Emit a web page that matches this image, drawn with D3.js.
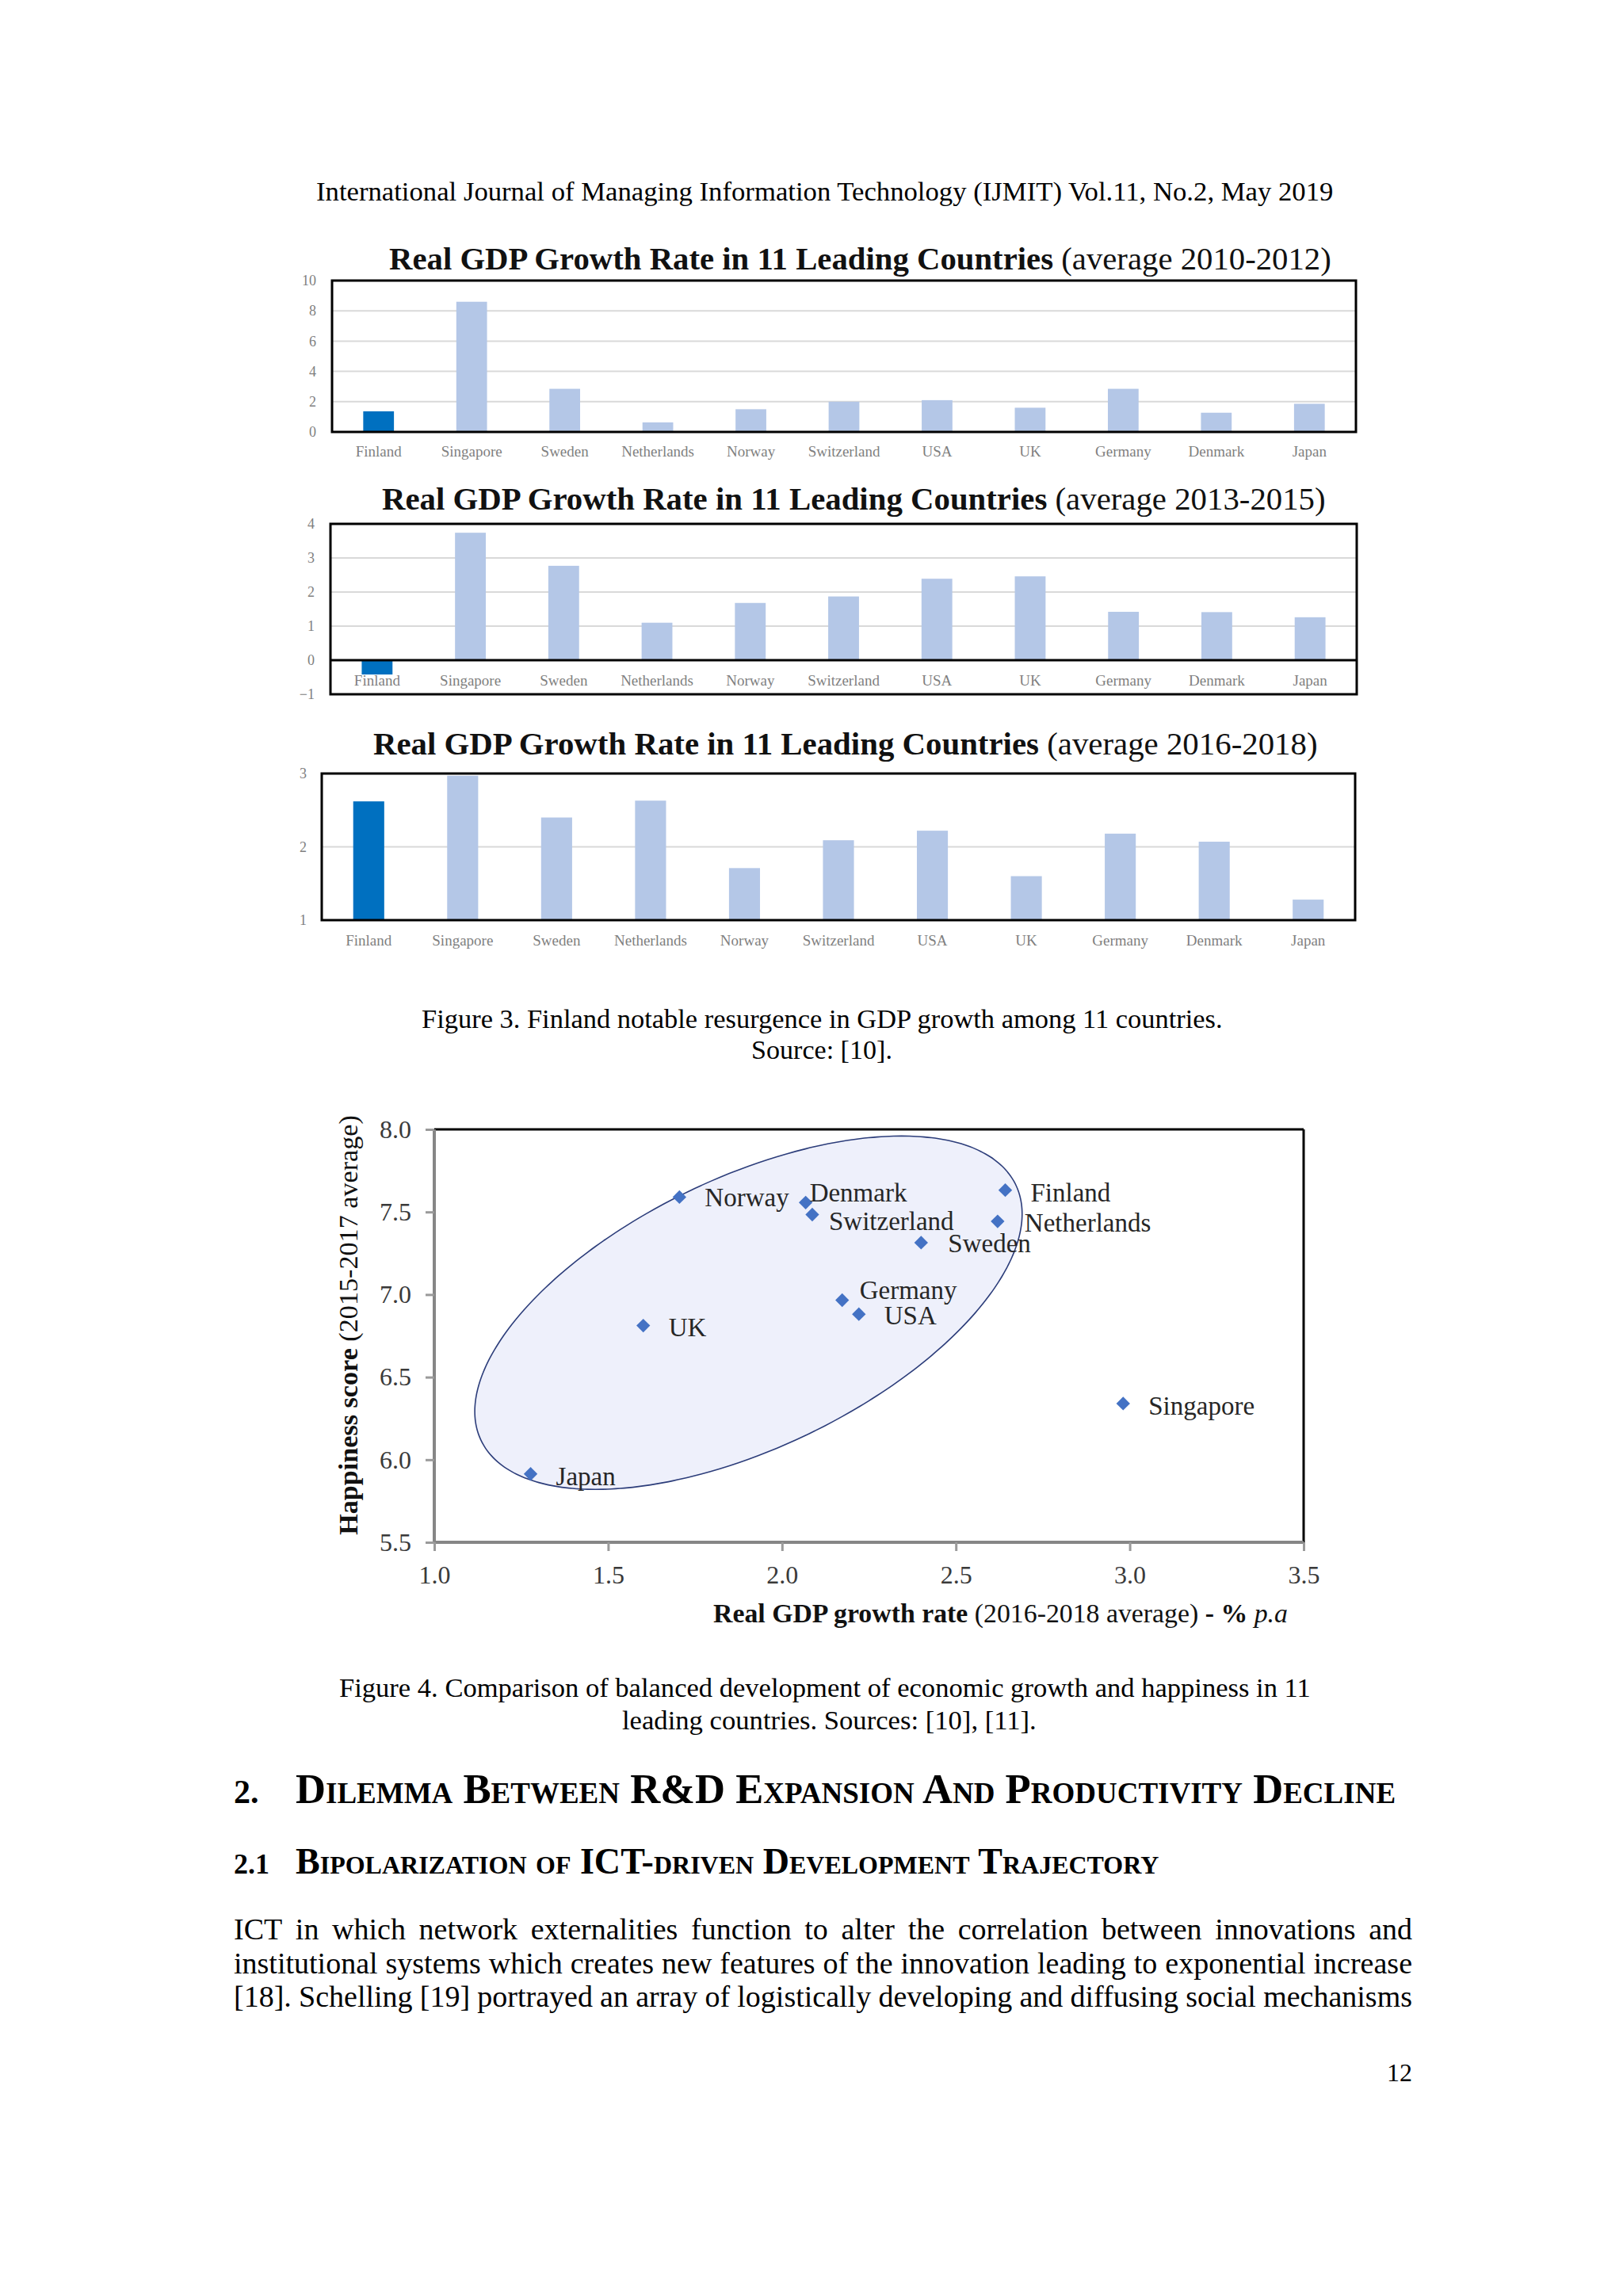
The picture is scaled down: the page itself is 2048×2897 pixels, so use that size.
<!DOCTYPE html>
<html><head><meta charset="utf-8">
<script src="https://cdn.jsdelivr.net/npm/d3@7/dist/d3.min.js"></script>
<style>
body{margin:0;background:#fff}
svg{display:block}
text{font-family:"Liberation Serif","Times New Roman",serif}
</style>
</head><body>
<svg id="page" width="2048" height="2897"></svg>
<script>
// ---------------- DATA ----------------
const countries = ["Finland","Singapore","Sweden","Netherlands","Norway","Switzerland","USA","UK","Germany","Denmark","Japan"];
const gdp2010_2012 = [1.36, 8.6, 2.85, 0.63, 1.5, 2.0, 2.1, 1.6, 2.85, 1.27, 1.86];
const gdp2013_2015 = [-0.42, 3.74, 2.77, 1.10, 1.68, 1.87, 2.39, 2.46, 1.42, 1.41, 1.26];
const gdp2016_2018 = [2.62, 2.97, 2.40, 2.63, 1.71, 2.09, 2.22, 1.60, 2.18, 2.07, 1.28];
const ticks2010 = [0, 2, 4, 6, 8, 10];
const ticks2013 = [-1, 0, 1, 2, 3, 4];
const ticks2016 = [1, 2, 3];

const scatterCountries = ["Norway","Denmark","Switzerland","Finland","Netherlands","Sweden","Germany","USA","UK","Singapore","Japan"];
const scatterGdp       = [1.705, 2.068, 2.087, 2.642, 2.620, 2.400, 2.173, 2.221, 1.601, 2.981, 1.277];
const scatterHappiness = [7.590, 7.557, 7.484, 7.632, 7.443, 7.314, 6.966, 6.881, 6.812, 6.340, 5.914];
const scatterXTicks = [1.0, 1.5, 2.0, 2.5, 3.0, 3.5];
const scatterYTicks = [5.5, 6.0, 6.5, 7.0, 7.5, 8.0];

const paragraphLines = [
  "ICT in which network externalities function to alter the correlation between innovations and",
  "institutional systems which creates new features of the innovation leading to exponential increase",
  "[18]. Schelling [19] portrayed an array of logistically developing and diffusing social mechanisms"
];

// ---------------- LAYOUT / STYLE ----------------
const svg = d3.select("#page");
svg.append("rect").attr("width",2048).attr("height",2897).attr("fill","#fff");

function fitWidth(sel, target) {
  const w = sel.node().getComputedTextLength();
  const fs = parseFloat(sel.attr("font-size"));
  sel.attr("font-size", fs * target / w);
}

function plainLine(txt, x0, x1, baseline, fs, opts={}) {
  const t = svg.append("text").attr("x", x0).attr("y", baseline)
    .attr("font-size", fs).attr("fill", "#000").text(txt);
  if (opts.weight) t.attr("font-weight", opts.weight);
  if (opts.smallcaps) t.style("font-variant", "small-caps");
  fitWidth(t, x1 - x0);
  return t;
}

function justifiedLine(txt, x0, x1, baseline, fs) {
  const words = txt.split(" ");
  const g = svg.append("g");
  const nodes = words.map(w => g.append("text").attr("y", baseline).attr("font-size", fs).attr("fill","#000").text(w));
  const widths = nodes.map(n => n.node().getComputedTextLength());
  const total = d3.sum(widths);
  const gap = (x1 - x0 - total) / (words.length - 1);
  let x = x0;
  nodes.forEach((n, i) => { n.attr("x", x); x += widths[i] + gap; });
}

// header
plainLine("International Journal of Managing Information Technology (IJMIT) Vol.11, No.2, May 2019", 399, 1683, 253, 32);

// ---------------- BAR CHARTS ----------------
function barChart(cfg) {
  const g = svg.append("g");
  const {values, box, domain, ticks, yearText, title, labelY, tickRight} = cfg;
  const x = d3.scaleBand().domain(countries).range([box.x0, box.x1]).paddingInner(0.67).paddingOuter(0.335);
  const y = d3.scaleLinear().domain(domain).range([box.y1, box.y0]);
  const base = domain[0] > 0 ? domain[0] : 0;

  g.selectAll("line.grid").data(ticks.filter(t => t !== domain[0] && t !== domain[1] && t !== 0))
    .join("line").attr("x1", box.x0).attr("x2", box.x1)
    .attr("y1", d => y(d)).attr("y2", d => y(d))
    .attr("stroke", "#d9d9d9").attr("stroke-width", 2);

  g.selectAll("rect.bar").data(countries.map((c, i) => ({c, v: values[i]})))
    .join("rect")
    .attr("x", d => x(d.c)).attr("width", x.bandwidth())
    .attr("y", d => Math.min(y(d.v), y(base)))
    .attr("height", d => Math.abs(y(d.v) - y(base)))
    .attr("fill", d => d.c === "Finland" ? "#0070c0" : "#b4c7e7");

  const xa = g.append("g").attr("transform", `translate(0,${labelY})`)
    .call(d3.axisBottom(x).tickSize(0).tickPadding(0));
  xa.select(".domain").remove();
  xa.selectAll("text").attr("font-size", 19).attr("fill", "#7f7f7f")
    .attr("font-family", '"Liberation Serif",serif').attr("dy", "0.35em");

  const ya = g.append("g").attr("transform", `translate(${tickRight},0)`)
    .call(d3.axisLeft(y).tickValues(ticks).tickSize(0).tickPadding(0).tickFormat(d3.format("d")));
  ya.select(".domain").remove();
  ya.selectAll("text").attr("font-size", 18).attr("fill", "#7f7f7f")
    .attr("font-family", '"Liberation Serif",serif');

  if (domain[0] < 0) {
    g.append("line").attr("x1", box.x0).attr("x2", box.x1).attr("y1", y(0)).attr("y2", y(0))
      .attr("stroke", "#000").attr("stroke-width", 3);
  }
  g.append("rect").attr("x", box.x0).attr("y", box.y0)
    .attr("width", box.x1 - box.x0).attr("height", box.y1 - box.y0)
    .attr("fill", "none").attr("stroke", "#000").attr("stroke-width", 3);

  const t = svg.append("text").attr("x", title.x0).attr("y", title.baseline).attr("font-size", 40).attr("fill", "#111");
  t.append("tspan").attr("font-weight", "bold").text("Real GDP Growth Rate in 11 Leading Countries");
  t.append("tspan").text(" (average " + yearText + ")");
  fitWidth(t, title.x1 - title.x0);
}

barChart({values: gdp2010_2012, domain: [0, 10], ticks: ticks2010, yearText: "2010-2012",
  box: {x0: 419, x1: 1711, y0: 354, y1: 545}, labelY: 569, tickRight: 399,
  title: {x0: 491, x1: 1680, baseline: 340}});
barChart({values: gdp2013_2015, domain: [-1, 4], ticks: ticks2013, yearText: "2013-2015",
  box: {x0: 417, x1: 1712, y0: 661, y1: 876}, labelY: 858, tickRight: 397,
  title: {x0: 482, x1: 1673, baseline: 643}});
barChart({values: gdp2016_2018, domain: [1, 3], ticks: ticks2016, yearText: "2016-2018",
  box: {x0: 406, x1: 1710, y0: 976, y1: 1161}, labelY: 1186, tickRight: 387,
  title: {x0: 471, x1: 1663, baseline: 952}});

plainLine("Figure 3. Finland notable resurgence in GDP growth among 11 countries.", 532, 1543, 1297, 32);
plainLine("Source: [10].", 948, 1126, 1336, 32);

// ---------------- SCATTER ----------------
const sx = d3.scaleLinear().domain([1.0, 3.5]).range([548, 1645]);
const sy = d3.scaleLinear().domain([5.5, 8.0]).range([1946, 1425]);
const sg = svg.append("g");

const ell = {cx: 1.9035, cy: 6.89, ax: 0.787, bx: 0.598, by: 0.887};
const ellPts = d3.range(0, 360, 2).map(a => {
  const t = a * Math.PI / 180;
  return [sx(ell.cx + ell.ax * Math.cos(t)), sy(ell.cy + ell.bx * Math.cos(t) + ell.by * Math.sin(t))];
});
sg.append("path").attr("d", d3.line().curve(d3.curveCardinalClosed)(ellPts))
  .attr("fill", "#eef0fb").attr("stroke", "#2c3d7a").attr("stroke-width", 1.6);

sg.append("line").attr("x1", sx(1.0)).attr("x2", sx(3.5)).attr("y1", sy(8)).attr("y2", sy(8)).attr("stroke", "#000").attr("stroke-width", 3);
sg.append("line").attr("x1", sx(3.5)).attr("x2", sx(3.5)).attr("y1", sy(8)).attr("y2", sy(5.5)).attr("stroke", "#000").attr("stroke-width", 3);

const yAx = sg.append("g").attr("transform", `translate(${sx(1.0)},0)`)
  .call(d3.axisLeft(sy).tickValues(scatterYTicks).tickFormat(d3.format(".1f")).tickSize(11).tickPadding(18));
const xAx = sg.append("g").attr("transform", `translate(0,${sy(5.5)})`)
  .call(d3.axisBottom(sx).tickValues(scatterXTicks).tickFormat(d3.format(".1f")).tickSize(11).tickPadding(18));
[yAx, xAx].forEach(a => {
  a.select(".domain").attr("stroke", "#868686").attr("stroke-width", 4);
  a.selectAll(".tick line").attr("stroke", "#9a9a9a").attr("stroke-width", 3);
  a.selectAll("text").attr("font-size", 32).attr("fill", "#3a3a3a").attr("font-family", '"Liberation Serif",serif');
});
yAx.select(".domain").attr("d", `M0,${sy(5.5)}V${sy(8)}`);
xAx.select(".domain").attr("d", `M${sx(1.0)},0H${sx(3.5)}`);

const pts = scatterCountries.map((c, i) => ({c, x: scatterGdp[i], y: scatterHappiness[i]}));
sg.selectAll("path.pt").data(pts).join("path")
  .attr("d", d3.symbol().type(d3.symbolSquare).size(150))
  .attr("transform", d => `translate(${sx(d.x)},${sy(d.y)}) rotate(45)`)
  .attr("fill", "#4472c4");

const labelOffset = {Norway:[32,12], Denmark:[5,-1], Switzerland:[21,19], Finland:[32,14], Netherlands:[34,13],
  Sweden:[34,12], Germany:[22,-1], USA:[32,13], UK:[32,13], Singapore:[32,14], Japan:[32,14]};
sg.selectAll("text.lbl").data(pts).join("text")
  .attr("x", d => sx(d.x) + labelOffset[d.c][0])
  .attr("y", d => sy(d.y) + labelOffset[d.c][1])
  .attr("font-size", 33).attr("fill", "#262626").text(d => d.c);

const xt = svg.append("text").attr("x", 900).attr("y", 2047).attr("font-size", 30).attr("fill", "#111");
xt.append("tspan").attr("font-weight", "bold").text("Real GDP growth rate");
xt.append("tspan").text(" (2016-2018 average) ");
xt.append("tspan").attr("font-weight", "bold").text("- % ");
xt.append("tspan").attr("font-style", "italic").text("p.a");
fitWidth(xt, 725);

const yt = svg.append("text").attr("transform", "translate(451,1672) rotate(-90)")
  .attr("text-anchor", "middle").attr("font-size", 30).attr("fill", "#111");
yt.append("tspan").attr("font-weight", "bold").text("Happiness score");
yt.append("tspan").text(" (2015-2017 average)");
fitWidth(yt, 530);

plainLine("Figure 4. Comparison of balanced development of economic growth and happiness in 11", 428, 1654, 2141, 32);
plainLine("leading countries. Sources: [10], [11].", 785, 1308, 2182, 32);

svg.append("text").attr("x", 295).attr("y", 2275).attr("font-size", 42).attr("font-weight", "bold").text("2.");
plainLine("Dilemma Between R&D Expansion And Productivity Decline", 373, 1744, 2275, 42, {weight: "bold", smallcaps: true});
svg.append("text").attr("x", 295).attr("y", 2364).attr("font-size", 36).attr("font-weight", "bold").text("2.1");
plainLine("Bipolarization of ICT-driven Development Trajectory", 373, 1462, 2364, 36, {weight: "bold", smallcaps: true});

// paragraph: font size chosen so the longest line fits naturally, then justified
const probe = svg.append("text").attr("font-size", 33).text(paragraphLines[1]);
const paraFs = Math.min(38, 33 * (1782 - 295 - 4) / probe.node().getComputedTextLength());
probe.remove();
const paraBaselines = [2447, 2490, 2532];
paragraphLines.forEach((l, i) => justifiedLine(l, 295, 1782, paraBaselines[i], paraFs));

svg.append("text").attr("x", 1782).attr("y", 2626).attr("text-anchor", "end").attr("font-size", 32).text("12");
</script>
</body></html>
